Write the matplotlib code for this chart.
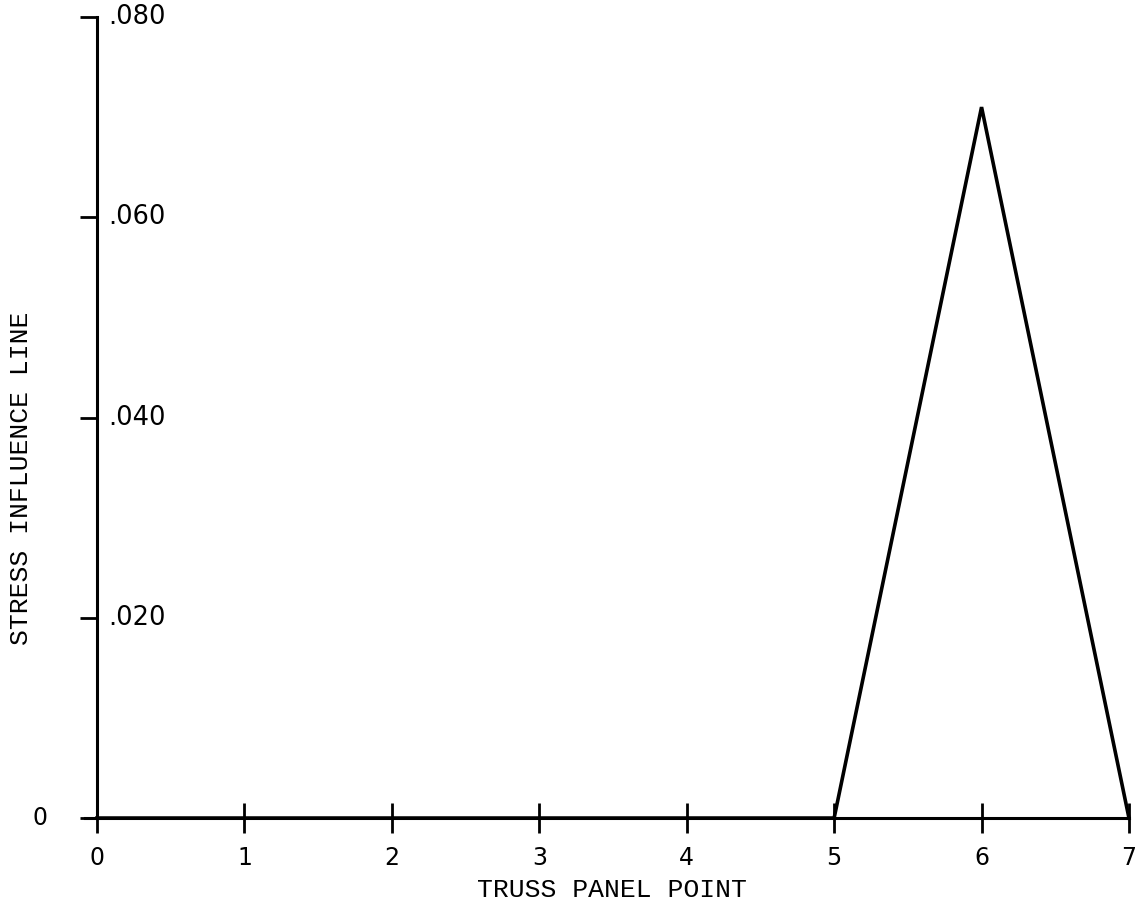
import numpy as np
import matplotlib
matplotlib.use("Agg")
import matplotlib.pyplot as plt
import matplotlib.transforms as mtransforms

# influence line ordinates at truss panel points
panel_points = [0, 1, 2, 3, 4, 5, 6, 7]
influence = [0, 0, 0, 0, 0, 0, 0.071, 0]

y_ticks = [0, 0.020, 0.040, 0.060, 0.080]
y_labels = ["0", ".020", ".040", ".060", ".080"]
x_labels = ["0", "1", "2", "3", "4", "5", "6", "7"]

fig = plt.figure(figsize=(11.42, 9.13), dpi=100)
ax = fig.add_axes([0.0849, 0.104, 0.9037, 0.8774])

ax.plot(panel_points, influence, color="black", lw=2.6, solid_joinstyle="miter", clip_on=False)

ax.set_xlim(0, 7)
ax.set_ylim(0, 0.08)
for s in ["top", "right"]:
    ax.spines[s].set_visible(False)
ax.spines["left"].set_linewidth(2.2)
ax.spines["bottom"].set_linewidth(2.2)
ax.spines["bottom"].set_bounds(-0.08, 7)

ax.set_xticks(panel_points)
ax.set_xticklabels(x_labels, fontsize=17, family="DejaVu Sans")
ax.tick_params(axis="x", direction="inout", length=22, width=2, pad=9)

ax.set_yticks(y_ticks)
ax.set_yticklabels([])
ax.tick_params(axis="y", direction="out", length=12, width=2)

# y tick labels sit to the right of the axis, except the zero label
trans = mtransforms.blended_transform_factory(ax.transAxes, ax.transData)
for v, lab in zip(y_ticks, y_labels):
    if v == 0:
        ax.text(-0.055, v, lab, transform=trans, ha="center", va="center",
                fontsize=17, family="DejaVu Sans")
    else:
        ax.text(0.011, v, lab, transform=trans, ha="left", va="center",
                fontsize=18.5, family="DejaVu Sans")

fig.text(0.536, 0.025, "TRUSS PANEL POINT", ha="center", va="center",
         fontsize=19, family="Liberation Mono")
fig.text(0.018, 0.476, "STRESS INFLUENCE LINE", ha="center", va="center",
         rotation=90, fontsize=19, family="Liberation Mono")

fig.savefig("out.png", dpi=100, facecolor="white")
